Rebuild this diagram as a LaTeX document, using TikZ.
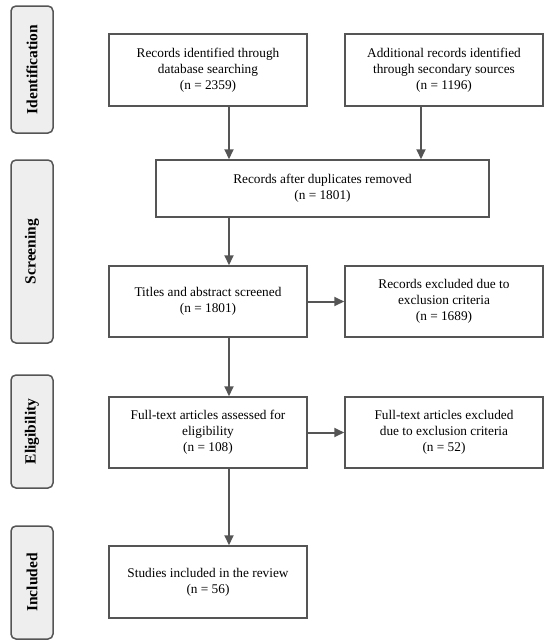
\documentclass[tikz,border=0pt]{standalone}
\usepackage{fontspec}
\setmainfont{Liberation Serif}
\usetikzlibrary{arrows.meta}
\definecolor{ln}{RGB}{85, 85, 85}
\definecolor{sg}{RGB}{238, 238, 238}

\begin{document}
\begin{tikzpicture}[
    box/.style={rectangle, draw=ln, line width=1.5pt, align=center, font=\fontsize{13.3}{16}\selectfont, inner sep=2pt},
    stage/.style={rectangle, rounded corners=5pt, draw=ln, fill=sg, line width=1.5pt, minimum width=42pt},
    phase/.style={rotate=90, font=\fontsize{15.5}{18}\selectfont\bfseries},
    arr/.style={draw=ln, line width=2pt, -{Triangle[length=10pt, width=9pt]}}]
\useasboundingbox (0pt, 0pt) rectangle (550pt, -643pt);
% phases
\node (id) [stage, minimum height=127pt] at (32pt, -69.5pt) {};
\node (scr) [stage, minimum height=183pt] at (32pt, -251.5pt) {};
\node (elig) [stage, minimum height=113pt] at (32pt, -431.5pt) {};
\node (incl) [stage, minimum height=113pt] at (32pt, -582.5pt) {};
\node (idtxt) [phase] at (id) {Identification};
\node (scrtxt) [phase] at (scr) {Screening};
\node (eligtxt) [phase] at (elig) {Eligibility};
\node (incltxt) [phase] at (incl) {Included};
% boxes
\node (db) [box, minimum width=198pt, minimum height=72pt] at (208pt, -70pt) {Records identified through\\database searching\\(n = 2359)};
\node (sec) [box, minimum width=198pt, minimum height=72pt] at (444pt, -70pt) {Additional records identified\\through secondary sources\\(n = 1196)};
\node (dup) [box, minimum width=333pt, minimum height=57pt] at (322.5pt, -188.5pt) {Records after duplicates removed\\(n = 1801)};
\node (tit) [box, minimum width=198pt, minimum height=71pt] at (208pt, -301.5pt) {Titles and abstract screened\\(n = 1801)};
\node (exa) [box, minimum width=198pt, minimum height=71pt] at (444pt, -301.5pt) {Records excluded due to\\exclusion criteria\\(n = 1689)};
\node (full) [box, minimum width=198pt, minimum height=71pt] at (208pt, -432.5pt) {Full-text articles assessed for\\eligibility\\(n = 108)};
\node (exb) [box, minimum width=198pt, minimum height=71pt] at (444pt, -432.5pt) {Full-text articles excluded\\due to exclusion criteria\\(n = 52)};
\node (inc) [box, minimum width=198pt, minimum height=72pt] at (208pt, -582pt) {Studies included in the review\\(n = 56)};
% arrows
\draw [arr] ([xshift=21pt]db.south) -- ([xshift=21pt]db.south |- dup.north);
\draw [arr] ([xshift=-23pt]sec.south) -- ([xshift=-23pt]sec.south |- dup.north);
\draw [arr] ([xshift=21pt]tit.north |- dup.south) -- ([xshift=21pt]tit.north);
\draw [arr] (tit.east) -- (exa.west);
\draw [arr] ([xshift=21pt]tit.south) -- ([xshift=21pt]full.north);
\draw [arr] (full.east) -- (exb.west);
\draw [arr] ([xshift=21pt]full.south) -- ([xshift=21pt]inc.north);
\end{tikzpicture}
\end{document}
